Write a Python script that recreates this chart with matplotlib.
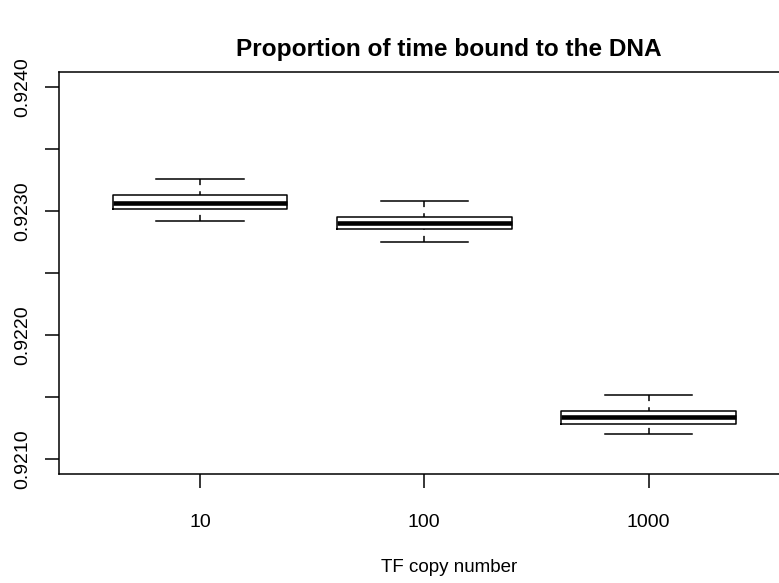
import matplotlib
matplotlib.use("Agg")
import matplotlib.pyplot as plt
from matplotlib.ticker import MultipleLocator

plt.rcParams['font.family'] = ['Liberation Sans', 'DejaVu Sans']

# summary stats per TF copy number (whisker low, Q1, median, Q3, whisker high)
copy_numbers = ['10', '100', '1000']
whisk_lo = [0.922920, 0.922745, 0.921200]
q1 = [0.923014, 0.922850, 0.921282]
medians = [0.923065, 0.922898, 0.921334]
q3 = [0.923127, 0.922952, 0.921387]
whisk_hi = [0.923253, 0.923081, 0.921516]

y_ticks = [0.9210, 0.9220, 0.9230, 0.9240]
y_tick_labels = ['0.9210', '0.9220', '0.9230', '0.9240']

fig = plt.figure(figsize=(7.79, 5.83), dpi=100)
ax = fig.add_axes([0.0761, 0.187, 1.0009, 0.690])

positions = [1, 2, 3]
stats = []
for i, name in enumerate(copy_numbers):
    stats.append(dict(label=name, whislo=whisk_lo[i], q1=q1[i], med=medians[i],
                      q3=q3[i], whishi=whisk_hi[i], fliers=[]))

lw = 1.1
ax.bxp(stats, positions=positions, widths=0.78, capwidths=0.39,
       showfliers=False,
       boxprops=dict(color='black', linewidth=lw),
       medianprops=dict(color='black', linewidth=3.3, solid_capstyle='butt'),
       whiskerprops=dict(linestyle='none'),
       capprops=dict(color='black', linewidth=lw))

# dashed whiskers, drawn from the cap in toward the box
for x, lo, a, b, hi in zip(positions, whisk_lo, q1, q3, whisk_hi):
    ax.plot([x, x], [hi, b], color='black', linewidth=lw, linestyle=(0, (4, 4)))
    ax.plot([x, x], [lo, a], color='black', linewidth=lw, linestyle=(0, (4, 4)))

ax.set_xlim(0.3727, 3.849)
ax.set_ylim(0.9210 - 0.000123, 0.9240 + 0.000121)

ax.set_xticks(positions)
ax.set_xticklabels(copy_numbers)
ax.set_yticks(y_ticks)
ax.set_yticklabels(y_tick_labels, rotation=90, va='center')
ax.yaxis.set_minor_locator(MultipleLocator(0.0005))

ax.tick_params(axis='both', which='both', length=10, width=lw, labelsize=14)
ax.tick_params(axis='x', pad=19)
ax.tick_params(axis='y', pad=10.5)
for s in ax.spines.values():
    s.set_linewidth(lw)

ax.set_title('Proportion of time bound to the DNA', fontsize=17.6,
             fontweight='bold', pad=11.5)
ax.set_xlabel('TF copy number', fontsize=13.5)
ax.xaxis.set_label_coords(0.5, -0.2337)
ax.xaxis.label.set_va('center')

fig.savefig('out.png', dpi=100)
